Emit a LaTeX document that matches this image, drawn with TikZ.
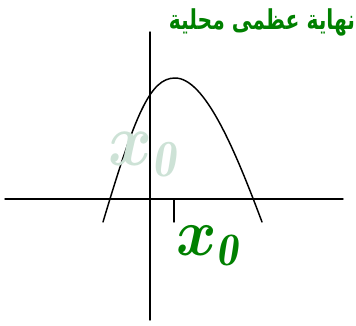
\documentclass[tikz,border=0pt]{standalone}
\usepackage{amsmath,amssymb}
\usepackage{fontspec}
\newfontfamily\arabicfont[Script=Arabic]{DejaVu Sans}
\TeXXeTstate=1
\usepackage{tikz}
\usepackage{xcolor}
\definecolor{titlegreen}{RGB}{0,128,0}
\definecolor{palegreen}{RGB}{205,226,214}

\begin{document}
\begin{tikzpicture}[x=0.75pt,y=-0.75pt,line cap=round,line width=1.1pt]
\useasboundingbox (0,0) rectangle (356,325);
\draw (5,199) -- (343,199);
\draw (150,32) -- (150,320);
\draw (174,199) -- (174,222);
\draw (103,222) .. controls (135,115) and (150,78) .. (175,78)
  .. controls (205,78) and (235,150) .. (262,222);
\node[palegreen,xscale=5,yscale=5.6,inner sep=0pt,anchor=base west] (xfaint) at (105,165) {$\boldsymbol{x_{\mathit{0}}}$};
\node[titlegreen,xscale=4.6,yscale=5,inner sep=0pt,anchor=base west] (xmark) at (173,255) {$\boldsymbol{x_{\mathit{0}}}$};
\node[titlegreen,font=\arabicfont\bfseries\fontsize{15.2}{15.2}\selectfont,yscale=1.35] (title) at (262,22) {\beginR نهاية عظمى محلية\endR};
\end{tikzpicture}
\end{document}
